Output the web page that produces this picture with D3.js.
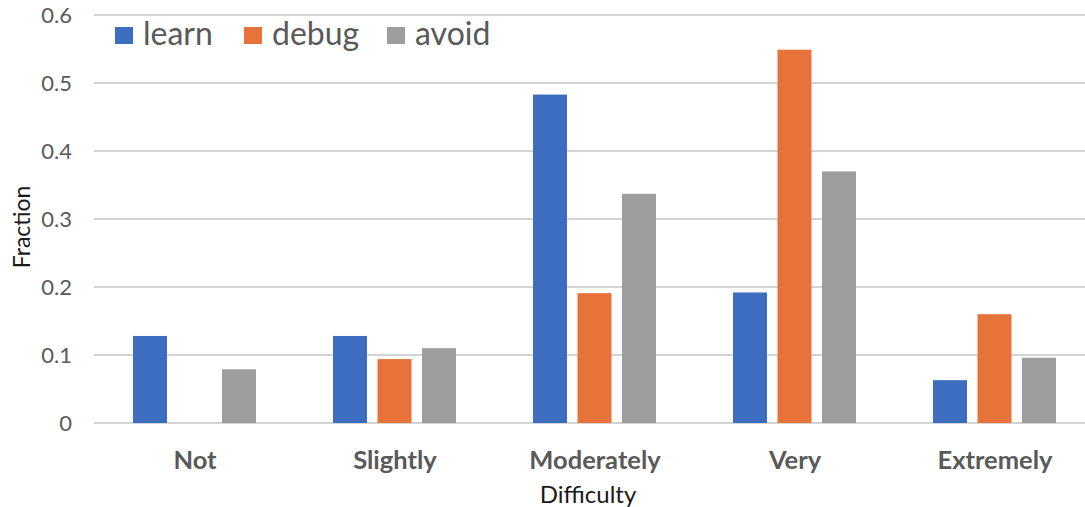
<!DOCTYPE html>
<html>
<head>
<meta charset="utf-8">
<script src="https://cdn.jsdelivr.net/npm/d3@7"></script>
<style>
  html, body { margin: 0; padding: 0; background: #fff; }
  svg { display: block; }
  text { font-family: Lato, "Open Sans", sans-serif; }
</style>
</head>
<body>
<svg id="chart" width="1085" height="507"></svg>
<script>
// Difficulty categories and the fraction of responses per series
const categories = ["Not", "Slightly", "Moderately", "Very", "Extremely"];
const seriesNames = ["learn", "debug", "avoid"];
const learn = [0.128, 0.128, 0.483, 0.192, 0.063];
const debug = [0.0, 0.094, 0.191, 0.549, 0.160];
const avoid = [0.079, 0.110, 0.337, 0.370, 0.096];
const yTicks = [0, 0.1, 0.2, 0.3, 0.4, 0.5, 0.6];
const yTickLabels = ["0", "0.1", "0.2", "0.3", "0.4", "0.5", "0.6"];

const seriesValues = { learn, debug, avoid };
const colors = { learn: "#3d6dbf", debug: "#e8733a", avoid: "#9d9d9d" };

const svg = d3.select("#chart");

const plot = { left: 95, right: 1095, top: 15, bottom: 423 };

const x = d3.scaleBand().domain(categories).range([plot.left, plot.right]).padding(0);
const xInner = d3.scaleBand().domain(seriesNames).range([38, 161]).paddingInner(0.236).paddingOuter(0);
const y = d3.scaleLinear().domain([0, 0.6]).range([plot.bottom, plot.top]);

// Horizontal gridlines (including the baseline)
svg.append("g")
  .selectAll("line")
  .data(yTicks)
  .join("line")
  .attr("x1", plot.left - 1)
  .attr("x2", 1085)
  .attr("y1", d => y(d))
  .attr("y2", d => y(d))
  .attr("stroke", "#d4d4d4")
  .attr("stroke-width", 2);

// Y axis tick labels
const yAxis = d3.axisLeft(y)
  .tickValues(yTicks)
  .tickFormat((d, i) => yTickLabels[i])
  .tickSize(0)
  .tickPadding(0);
const yg = svg.append("g")
  .attr("transform", `translate(72,0)`)
  .call(yAxis);
yg.select(".domain").remove();
yg.selectAll("text")
  .attr("fill", "#595959")
  .attr("font-size", 22)
  .attr("font-family", "Lato, sans-serif")
  .attr("dy", "0.35em");

// Bars
const groups = svg.append("g")
  .selectAll("g")
  .data(categories)
  .join("g")
  .attr("transform", d => `translate(${x(d)},0)`);

groups.selectAll("rect")
  .data((c, i) => seriesNames.map(s => ({ s, v: seriesValues[s][i] })))
  .join("rect")
  .attr("x", d => xInner(d.s))
  .attr("width", xInner.bandwidth())
  .attr("y", d => y(d.v))
  .attr("height", d => y(0) - y(d.v))
  .attr("fill", d => colors[d.s]);

// Category labels
const xAxis = d3.axisBottom(x).tickSize(0).tickPadding(0);
const xg = svg.append("g")
  .attr("transform", `translate(0,${plot.bottom})`)
  .call(xAxis);
xg.select(".domain").remove();
xg.selectAll("text")
  .attr("fill", "#595959")
  .attr("font-size", 25.5)
  .attr("font-weight", "bold")
  .attr("font-family", "Lato, sans-serif")
  .attr("dy", 0)
  .attr("y", 46);

// Axis titles
svg.append("text")
  .attr("x", 588)
  .attr("y", 503)
  .attr("text-anchor", "middle")
  .attr("font-size", 24)
  .attr("fill", "#1a1a1a")
  .text("Difficulty");

svg.append("text")
  .attr("transform", "translate(30,227) rotate(-90)")
  .attr("text-anchor", "middle")
  .attr("font-size", 23)
  .attr("fill", "#1a1a1a")
  .text("Fraction");

// Legend
const legendX = [115, 244, 387];
const legend = svg.append("g")
  .selectAll("g")
  .data(seriesNames)
  .join("g")
  .attr("transform", (d, i) => `translate(${legendX[i]},0)`);
legend.append("rect")
  .attr("x", 0)
  .attr("y", 27)
  .attr("width", 18)
  .attr("height", 17)
  .attr("fill", d => colors[d]);
legend.append("text")
  .attr("x", 28)
  .attr("y", 45)
  .attr("font-size", 32)
  .attr("fill", "#595959")
  .text(d => d);
</script>
</body>
</html>
